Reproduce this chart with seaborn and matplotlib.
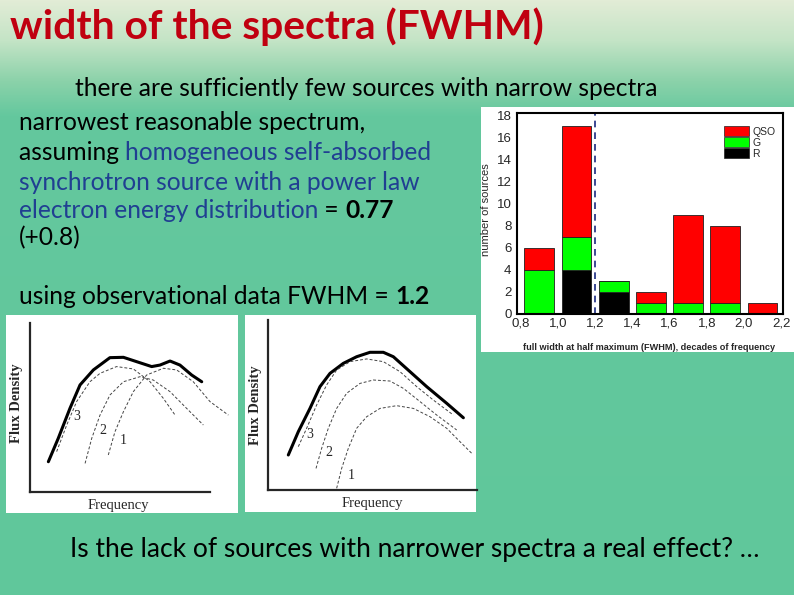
import matplotlib
matplotlib.use("Agg")
import matplotlib.pyplot as plt
from matplotlib.patches import Patch, Rectangle
from matplotlib.ticker import FuncFormatter, MultipleLocator
import numpy as np
import pandas as pd
import seaborn as sns

# ---- histogram of FWHM values ----
bin_edges = [0.8, 1.0, 1.2, 1.4, 1.6, 1.8, 2.0, 2.2]
bin_centers = [0.9, 1.1, 1.3, 1.5, 1.7, 1.9, 2.1]
qso_counts = [2, 10, 0, 1, 8, 7, 1]
g_counts = [4, 3, 1, 1, 1, 1, 0]
r_counts = [0, 4, 2, 0, 0, 0, 0]
source_types = ["QSO", "G", "R"]
type_colors = ["#ff0000", "#00ff00", "#000000"]
fwhm_limit = 1.2
x_ticks = [0.8, 1.0, 1.2, 1.4, 1.6, 1.8, 2.0, 2.2]
y_ticks = [0, 2, 4, 6, 8, 10, 12, 14, 16, 18]

# ---- sketch 1: two-peaked spectrum (fractions of axis) ----
s1_total_x = [0.102, 0.157, 0.222, 0.278, 0.352, 0.444, 0.519, 0.593, 0.676, 0.722, 0.778, 0.833, 0.898, 0.954]
s1_total_y = [0.178, 0.317, 0.495, 0.634, 0.723, 0.796, 0.798, 0.772, 0.743, 0.752, 0.776, 0.752, 0.693, 0.653]
s1_c3_x = [0.148, 0.204, 0.259, 0.333, 0.389, 0.481, 0.574, 0.667, 0.741, 0.806]
s1_c3_y = [0.238, 0.396, 0.535, 0.653, 0.703, 0.743, 0.729, 0.653, 0.554, 0.455]
s1_c2_x = [0.306, 0.343, 0.389, 0.444, 0.519, 0.611, 0.685, 0.778, 0.870, 0.963]
s1_c2_y = [0.168, 0.317, 0.455, 0.574, 0.653, 0.683, 0.663, 0.594, 0.495, 0.396]
s1_c1_x = [0.435, 0.472, 0.519, 0.574, 0.648, 0.741, 0.815, 0.907, 1.0, 1.102]
s1_c1_y = [0.218, 0.356, 0.475, 0.594, 0.693, 0.733, 0.723, 0.653, 0.535, 0.455]

# ---- sketch 2: single broad peak ----
s2_total_x = [0.096, 0.144, 0.2, 0.248, 0.296, 0.36, 0.424, 0.488, 0.552, 0.6, 0.68, 0.76, 0.856, 0.936]
s2_total_y = [0.206, 0.343, 0.48, 0.608, 0.686, 0.745, 0.784, 0.81, 0.81, 0.784, 0.696, 0.608, 0.51, 0.425]
s2_c3_x = [0.144, 0.184, 0.232, 0.28, 0.328, 0.392, 0.472, 0.552, 0.632, 0.712, 0.792, 0.888]
s2_c3_y = [0.255, 0.363, 0.5, 0.618, 0.706, 0.755, 0.771, 0.755, 0.696, 0.608, 0.529, 0.441]
s2_c2_x = [0.229, 0.256, 0.288, 0.328, 0.376, 0.44, 0.504, 0.584, 0.648, 0.728, 0.808, 0.904]
s2_c2_y = [0.127, 0.245, 0.363, 0.48, 0.569, 0.627, 0.647, 0.641, 0.598, 0.52, 0.441, 0.353]
s2_c1_x = [0.328, 0.352, 0.384, 0.424, 0.472, 0.536, 0.616, 0.696, 0.776, 0.856, 0.92, 0.976]
s2_c1_y = [0.01, 0.127, 0.245, 0.363, 0.431, 0.48, 0.496, 0.48, 0.431, 0.363, 0.284, 0.216]

W, H = 794, 595
BLUE = "#203f92"
BODY_FONT = "Lato"


def px_rect(left, top, right, bottom):
    return [left / W, 1 - bottom / H, (right - left) / W, (bottom - top) / H]


def text_width(ax, s, **kw):
    t = ax.text(0, 0, s, **kw)
    w = t.get_window_extent(ax.figure.canvas.get_renderer()).width
    t.remove()
    return w


def fit_size(ax, s, width, **kw):
    return 20 * width / text_width(ax, s, fontsize=20, **kw)


def rich_line(ax, x, y, pieces, size):
    for s, color, weight in pieces:
        kw = dict(fontsize=size, fontweight=weight, family=BODY_FONT)
        ax.text(x, y, s, color=color, va="center", ha="left", **kw)
        x += text_width(ax, s + ".", **kw) - text_width(ax, ".", **kw)


def sketch(ax, total, curves, labels, xmax):
    sns.lineplot(x=total[0], y=total[1], ax=ax, color="black", lw=2.2, sort=False, estimator=None)
    for cx, cy in curves:
        sns.lineplot(x=cx, y=cy, ax=ax, color="#444444", lw=0.7, sort=False,
                     estimator=None, dashes=False, linestyle=(0, (3, 2)))
    for s, (lx, ly) in labels:
        ax.text(lx, ly, s, fontsize=10, family="Liberation Serif", ha="center", va="center")
    ax.set_xlim(0, xmax)
    ax.set_ylim(0, 1)
    ax.spines[["top", "right"]].set_visible(False)
    ax.spines["bottom"].set_bounds(0, 1)
    for sp in ("left", "bottom"):
        ax.spines[sp].set_linewidth(1.6)
    ax.set_xticks([])
    ax.set_yticks([])
    ax.set_xlabel("")
    ax.set_ylabel("")
    ax.patch.set_alpha(0)


sns.set_style("white")
fig = plt.figure(figsize=(W / 100, H / 100), dpi=100)

# background slide with gradient, in pixel coordinates
bg = fig.add_axes([0, 0, 1, 1], zorder=-1)
rows = np.arange(H)
stops = [0, 40, 80, 115, H]
grad = np.stack([np.interp(rows, stops, c) for c in
                 ([226, 196, 140, 100, 96], [236, 228, 210, 200, 199], [214, 198, 170, 158, 155])], axis=-1) / 255
bg.imshow(grad[:, None, :], aspect="auto", extent=[0, W, H, 0])
bg.set_xlim(0, W)
bg.set_ylim(H, 0)
bg.axis("off")
for left, top, right, bottom in [(481, 107, 794, 352), (6, 315, 238, 513), (245, 315, 476, 512)]:
    bg.add_patch(Rectangle((left, top), right - left, bottom - top, color="white", lw=0))

title = "width of the spectra (FWHM)"
bg.text(10, 27, title, color="#c00010", fontweight="bold", family=BODY_FONT, va="center",
        fontsize=fit_size(bg, title, 534, fontweight="bold", family=BODY_FONT))

body = fit_size(bg, "narrowest reasonable spectrum,", 348, family=BODY_FONT)
question = "Is the lack of sources with narrower spectra a real effect? \u2026"
rich_line(bg, 75, 88, [("there are sufficiently few sources with narrow spectra", "black", "normal")], body)
rich_line(bg, 19, 123, [("narrowest reasonable spectrum,", "black", "normal")], body)
rich_line(bg, 19, 153, [("assuming ", "black", "normal"), ("homogeneous self-absorbed", BLUE, "normal")], body)
rich_line(bg, 19, 182, [("synchrotron source with a power law", BLUE, "normal")], body)
rich_line(bg, 19, 210, [("electron energy distribution", BLUE, "normal"), (" = ", "black", "normal"),
                        ("0.77", "black", "bold")], body)
rich_line(bg, 19, 238, [("(+0.8)", "black", "normal")], body)
rich_line(bg, 19, 297, [("using observational data FWHM = ", "black", "normal"), ("1.2", "black", "bold")], body)
rich_line(bg, 70, 549, [(question, "black", "normal")],
          fit_size(bg, question, 690, family=BODY_FONT))

# ---- stacked histogram ----
ax = fig.add_axes(px_rect(517, 113, 783, 314))
df = pd.DataFrame({
    "fwhm": bin_centers * 3,
    "type": [t for t in source_types for _ in bin_centers],
    "count": qso_counts + g_counts + r_counts,
})
sns.histplot(df, x="fwhm", weights="count", hue="type", hue_order=source_types,
             palette=dict(zip(source_types, type_colors)), bins=bin_edges, multiple="stack",
             shrink=0.8, alpha=1, edgecolor="#202020", linewidth=0.6, legend=False, ax=ax)
ax.axvline(fwhm_limit, color="#1a2a80", ls=(0, (4, 3)), lw=1.2)
ax.set_xlim(0.78, 2.21)
ax.set_ylim(0, 18.2)
ax.set_xticks(x_ticks)
ax.set_yticks(y_ticks)
ax.xaxis.set_minor_locator(MultipleLocator(0.1))
ax.yaxis.set_minor_locator(MultipleLocator(1))
ax.xaxis.set_major_formatter(FuncFormatter(lambda v, _: f"{v:.1f}".replace(".", ",")))
ax.tick_params(which="both", direction="in", labelsize=9.5, width=1.2,
               labelfontfamily="Liberation Sans")
ax.tick_params(axis="x", pad=2.5)
ax.tick_params(axis="y", pad=4)
ax.tick_params(which="major", length=5)
ax.tick_params(which="minor", length=2.5)
for sp in ax.spines.values():
    sp.set_linewidth(1.5)
    sp.set_color("black")
ax.set_xlabel("")
ax.set_ylabel("")
handles = [Patch(facecolor=c, edgecolor="#202020", lw=0.5) for c in type_colors]
ax.legend(handles, source_types, loc="upper right", bbox_to_anchor=(1.0, 0.97), frameon=False,
          prop={"family": "Liberation Sans", "size": 7.5}, handlelength=2.4, handleheight=1.1,
          labelspacing=0.05, handletextpad=0.3, borderaxespad=0.3)
bg.text(486, 210, "number of sources", rotation=90, ha="center", va="center",
        family="Liberation Sans", fontsize=8)
bg.text(649, 347, "full width at half maximum (FWHM), decades of frequency", ha="center", va="center",
        family="Liberation Sans", fontweight="bold", fontsize=6.6)

# ---- sketches ----
ax1 = fig.add_axes(px_rect(30, 323.3, 30 + 180 * 1.12, 491.7))
sketch(ax1, (s1_total_x, s1_total_y),
       [(s1_c3_x, s1_c3_y), (s1_c2_x, s1_c2_y), (s1_c1_x, s1_c1_y)],
       [("3", (0.259, 0.446)), ("2", (0.407, 0.366)), ("1", (0.519, 0.307))], 1.12)
ax2 = fig.add_axes(px_rect(268.3, 320, 476.7, 490))
sketch(ax2, (s2_total_x, s2_total_y),
       [(s2_c3_x, s2_c3_y), (s2_c2_x, s2_c2_y), (s2_c1_x, s2_c1_y)],
       [("3", (0.197, 0.327)), ("2", (0.293, 0.22)), ("1", (0.4, 0.084))], 1.0)
for x, y in [(17, 403), (255, 405)]:
    bg.text(x, y, "Flux Density", rotation=90, ha="center", va="center",
            family="Liberation Serif", fontweight="bold", fontsize=10.5)
for x, y in [(118, 505), (372, 504)]:
    bg.text(x, y, "Frequency", ha="center", va="center", family="Liberation Serif", fontsize=10.5)

fig.savefig("out.png", dpi=100)
